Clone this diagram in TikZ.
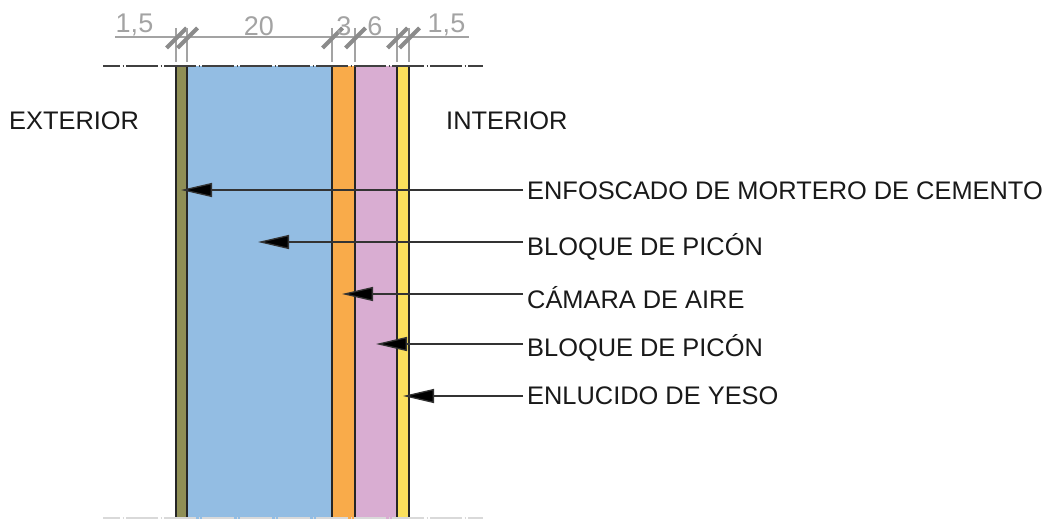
\documentclass[tikz,border=0pt]{standalone}
\usepackage{fontspec}
\setmainfont{Liberation Sans}
\usetikzlibrary{arrows.meta}
\definecolor{wallolive}{HTML}{8F8F56}
\definecolor{wallblue}{HTML}{93BDE3}
\definecolor{wallorange}{HTML}{F9AB4A}
\definecolor{wallpink}{HTML}{D9ADD2}
\definecolor{wallyellow}{HTML}{FBE05C}
\definecolor{dimgray}{HTML}{A3A3A3}
\tikzset{
  wall/.style={draw=black!85,line width=1.7pt},
  lbl/.style={anchor=west,inner sep=0pt,font=\fontsize{25.4}{26}\selectfont,text=black!90},
  dimtxt/.style={inner sep=0pt,font=\fontsize{27}{28}\selectfont,text=dimgray},
  dimline/.style={draw=dimgray,line width=1.5pt},
  slash/.style={draw=dimgray!85!black,line width=4pt},
  leader/.style={draw=black!80,line width=1.3pt,-{Triangle[length=31pt,width=14pt,fill=black]}},
  axis/.style={draw=black!75,line width=1.6pt,dash pattern=on 32pt off 2.5pt on 1pt off 2.5pt,dash phase=15pt},
  axislight/.style={draw=black!15,line width=1.6pt,dash pattern=on 32pt off 2.5pt on 1pt off 2.5pt,dash phase=15pt},
}
\begin{document}
\begin{tikzpicture}[x=1pt,y=-1pt]
\useasboundingbox (0,0) rectangle (1050,519);
% walls
\fill[wallolive] (176,66) rectangle (187,519);
\fill[wallblue] (187,66) rectangle (332,519);
\fill[wallorange] (332,66) rectangle (355,519);
\fill[wallpink] (355,66) rectangle (397,519);
\fill[wallyellow] (397,66) rectangle (409,519);
\foreach \x in {176,187,332,355,397,409} \draw[wall] (\x,66) -- (\x,519);
% axes
\draw[axis] (103,66) -- (483,66);
\draw[axislight] (103,518) -- (483,518);
% dimensions
\draw[dimline] (115,37) -- (469,37);
\foreach \x in {176,187,332,355,397,409} {
  \draw[dimline] (\x,28) -- (\x,62);
  \draw[slash] (\x-9.5,48) -- (\x+10.5,28);
}
\node[dimtxt] (d1) at (134.5,24.5) {1,5};
\node[dimtxt] (d2) at (259,26) {20};
\node[dimtxt] (d3) at (344,26) {3};
\node[dimtxt] (d4) at (375,26) {6};
\node[dimtxt] (d5) at (446.5,24.5) {1,5};
% zone labels
\node[lbl] (ext) at (9,121) {EXTERIOR};
\node[lbl] (int) at (446,121) {INTERIOR};
% layer labels
\node[lbl] (l1) at (527,191) {ENFOSCADO DE MORTERO DE CEMENTO};
\node[lbl] (l2) at (527,247) {BLOQUE DE PICÓN};
\node[lbl] (l3) at (527,298) {CÁMARA DE AIRE};
\node[lbl] (l4) at (527,348) {BLOQUE DE PICÓN};
\node[lbl] (l5) at (527,396) {ENLUCIDO DE YESO};
\coordinate (t1) at (181,190);
\coordinate (t2) at (258,242);
\coordinate (t3) at (342,294);
\coordinate (t4) at (376,344);
\coordinate (t5) at (403,396);
\draw[leader] (l1.west |- t1) ++(-4,0) -- (t1);
\draw[leader] (l2.west |- t2) ++(-4,0) -- (t2);
\draw[leader] (l3.west |- t3) ++(-4,0) -- (t3);
\draw[leader] (l4.west |- t4) ++(-4,0) -- (t4);
\draw[leader] (l5.west |- t5) ++(-4,0) -- (t5);
\end{tikzpicture}
\end{document}
